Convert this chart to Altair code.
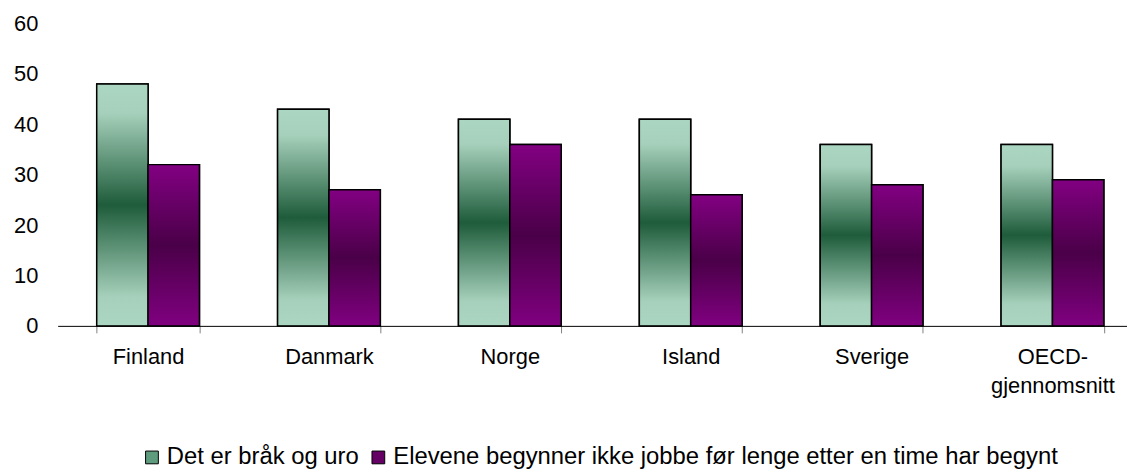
import altair as alt
import pandas as pd

countries = ["Finland", "Danmark", "Norge", "Island", "Sverige", "OECD-gjennomsnitt"]
series_names = ["Det er bråk og uro",
                "Elevene begynner ikke jobbe før lenge etter en time har begynt"]
brak_uro = [48, 43, 41, 41, 36, 36]
begynner_ikke = [32, 27, 36, 26, 28, 29]

rows = []
for c, a, b in zip(countries, brak_uro, begynner_ikke):
    rows.append({"land": c, "serie": series_names[0], "verdi": a})
    rows.append({"land": c, "serie": series_names[1], "verdi": b})
df = pd.DataFrame(rows)

FONT = "Liberation Sans"

green_grad = alt.LinearGradient(
    gradient="linear", x1=0, y1=0, x2=0, y2=1,
    stops=[alt.GradientStop(offset=0, color="#abd6c1"),
           alt.GradientStop(offset=0.12, color="#a6d0bb"),
           alt.GradientStop(offset=0.5, color="#1e5c3b"),
           alt.GradientStop(offset=0.88, color="#a6d0bb"),
           alt.GradientStop(offset=1, color="#abd6c1")])
purple_grad = alt.LinearGradient(
    gradient="linear", x1=0, y1=0, x2=0, y2=1,
    stops=[alt.GradientStop(offset=0, color="#820082"),
           alt.GradientStop(offset=0.5, color="#4a0048"),
           alt.GradientStop(offset=1, color="#800080")])

x_enc = alt.X("land:N", sort=countries, title=None,
              scale=alt.Scale(range=[0, 1093], paddingInner=0.432, paddingOuter=0.216),
              axis=alt.Axis(labelAngle=0, labelFont=FONT, labelFontSize=22, labelColor="black",
                            domainColor="black", domainWidth=1, tickColor="#808080",
                            tickSize=7, tickBand="extent", labelPadding=14,
                            labelLineHeight=29,
                            labelExpr="datum.label == 'OECD-gjennomsnitt' ? ['OECD-', 'gjennomsnitt'] : datum.label"))
xo_enc = alt.XOffset("serie:N", sort=series_names, scale=alt.Scale(paddingInner=0, paddingOuter=0))
y_enc = alt.Y("verdi:Q", title=None,
              scale=alt.Scale(domain=[0, 60], nice=False),
              axis=alt.Axis(values=[0, 10, 20, 30, 40, 50, 60], domain=False, ticks=False, grid=False,
                            labelFont=FONT, labelFontSize=22, labelColor="black", labelPadding=20))

base = alt.Chart(df).mark_bar(stroke="black", strokeWidth=1.5).encode(
    x=x_enc, xOffset=xo_enc, y=y_enc,
    color=alt.Color("serie:N", sort=series_names,
                    scale=alt.Scale(domain=series_names, range=["#5f9c7e", "#650065"]),
                    legend=alt.Legend(orient="none", legendX=83, legendY=425, direction="horizontal",
                                      title=None, symbolType="square", symbolSize=165,
                                      symbolStrokeColor="black", symbolStrokeWidth=1,
                                      labelFont=FONT, labelFontSize=24, labelColor="black",
                                      labelOffset=3, columnPadding=7, padding=0,
                                      labelLimit=1000))
)

green_layer = alt.Chart(df).transform_filter(
    alt.datum.serie == series_names[0]
).mark_bar(fill=green_grad, stroke="black", strokeWidth=1.5).encode(
    x=x_enc, xOffset=xo_enc, y=y_enc)

purple_layer = alt.Chart(df).transform_filter(
    alt.datum.serie == series_names[1]
).mark_bar(fill=purple_grad, stroke="black", strokeWidth=1.5).encode(
    x=x_enc, xOffset=xo_enc, y=y_enc)

chart = alt.layer(base, green_layer, purple_layer).properties(
    width=1077, height=304.5,
    padding={"left": 50, "top": 14, "right": 0, "bottom": 142},
    autosize=alt.AutoSizeParams(type="none"),
    background="white",
).configure_view(stroke=None)

chart.save("out.html", embed_options={"renderer": "svg", "actions": False})
